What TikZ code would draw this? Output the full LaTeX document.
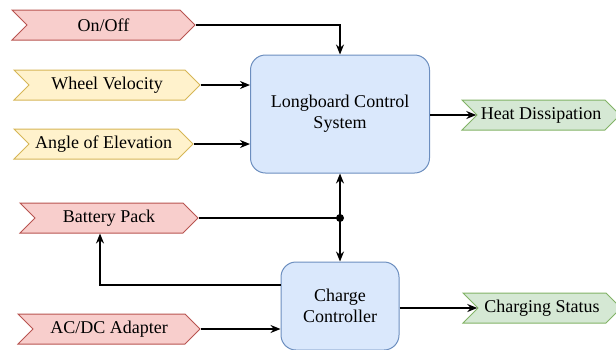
\documentclass[tikz,border=0pt]{standalone}
\usepackage{fontspec}
\setmainfont{Liberation Serif}
\usetikzlibrary{shapes.symbols}
\usetikzlibrary{arrows.meta}

\definecolor{redfill}{HTML}{F8CECC}
\definecolor{redline}{HTML}{B85450}
\definecolor{yellowfill}{HTML}{FFF2CC}
\definecolor{yellowline}{HTML}{D6B656}
\definecolor{greenfill}{HTML}{D5E8D4}
\definecolor{greenline}{HTML}{82B366}
\definecolor{bluefill}{HTML}{DAE8FC}
\definecolor{blueline}{HTML}{6C8EBF}

\tikzset{
  every node/.style={font=\rmfamily\fontsize{18}{21}\selectfont},
  tag/.style={shape=signal, signal from=west, signal to=east,
    signal pointer angle=90, minimum height=30pt, inner sep=0pt,
    line width=1pt, align=center},
  redtag/.style={tag, draw=redline, fill=redfill},
  yellowtag/.style={tag, draw=yellowline, fill=yellowfill},
  greentag/.style={tag, draw=greenline, fill=greenfill},
  block/.style={draw=blueline, fill=bluefill, rounded corners=15pt,
    line width=1pt, align=center},
  link/.style={line width=1.3pt, -{Stealth[length=10pt,width=8pt]}}
}

\begin{document}
\begin{tikzpicture}[x=1pt,y=-1pt]
\useasboundingbox (0,0) rectangle (616,349);
\draw (340,114) node[block, minimum width=179pt, minimum height=118pt] (lcs) {Longboard Control\\System};
\draw (340,306) node[block, minimum width=118pt, minimum height=88pt] (cc) {Charge\\Controller};
\draw (103.5,25) node[redtag, minimum width=183pt] (onoff) {On/Off};
\draw (107,85) node[yellowtag, minimum width=186pt] (wheel) {Wheel Velocity};
\draw (103.5,144) node[yellowtag, minimum width=179pt] (angle) {Angle of Elevation};
\draw (109,218) node[redtag, minimum width=178pt] (battery) {Battery Pack};
\draw (109,329) node[redtag, minimum width=182pt] (adapter) {AC/DC Adapter};
\draw (541,115) node[greentag, minimum width=158pt] (heat) {Heat Dissipation};
\draw (542,308) node[greentag, minimum width=158pt] (status) {Charging Status};
\coordinate (dot) at (340,218);
\coordinate (turn) at (100,285);
% inputs
\draw[link] (onoff.east) -| (lcs.north);
\draw[link] (wheel.east) -- (wheel.east -| lcs.west);
\draw[link] (angle.east) -- (angle.east -| lcs.west);
\draw[link] (adapter.east) -- (adapter.east -| cc.west);
% outputs
\draw[link] (lcs.east |- heat) -- (heat.west);
\draw[link] (cc.east |- status) -- (status.west);
% battery
\draw[link, {Stealth[length=10pt,width=8pt]}-{Stealth[length=10pt,width=8pt]}] (lcs.south) -- (cc.north);
\draw[line width=1.3pt] (battery.east) -- (dot);
\fill (dot) circle (4pt);
\draw[link] (cc.west |- turn) -- (turn) -- (turn |- battery.south);
\end{tikzpicture}
\end{document}
